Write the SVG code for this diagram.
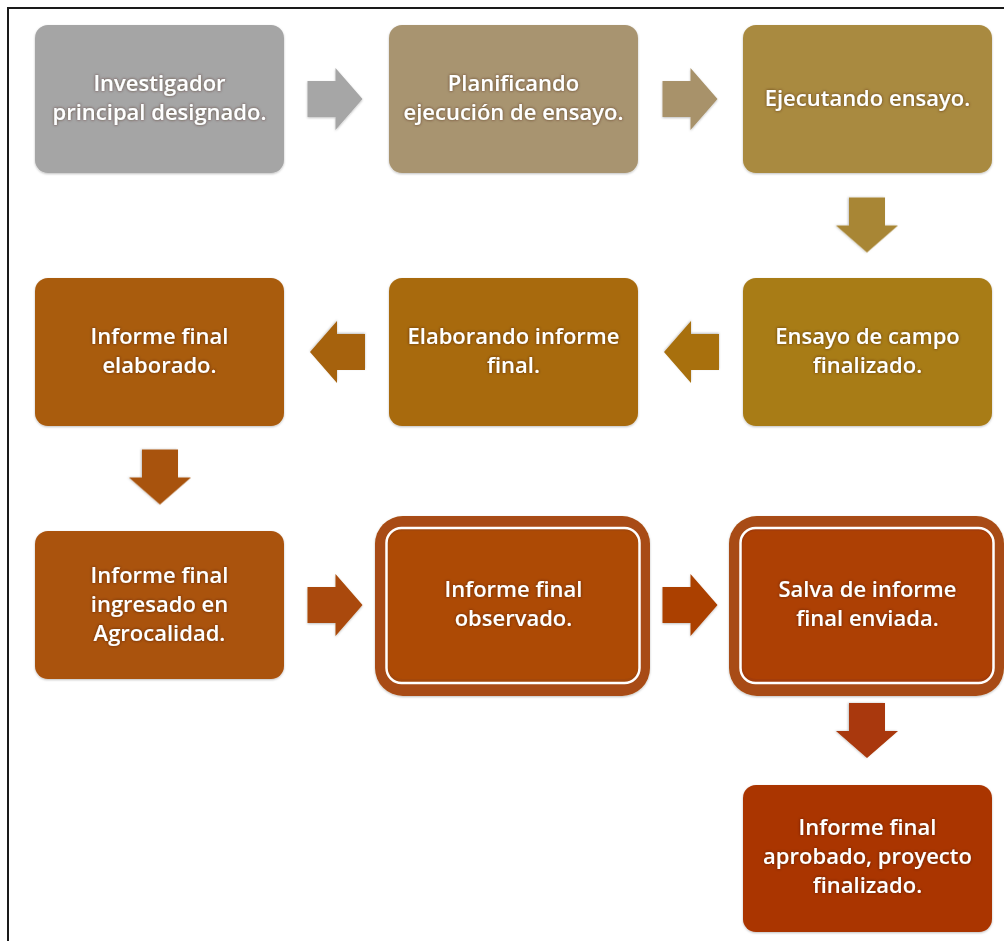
<svg xmlns="http://www.w3.org/2000/svg" width="1004" height="941" viewBox="0 0 1004 941">
  <defs>
    <style>
      .box { stroke-width: 0; filter: url(#soft); }
      .lbl { font-family: "Open Sans", Lato, "Liberation Sans", sans-serif; font-size: 22px; font-weight: 600; fill: #ffffff; text-anchor: middle; filter: url(#glow); }
      .arrow { filter: url(#soft); }
    </style>
    <filter id="soft" x="-10%" y="-10%" width="120%" height="125%">
      <feDropShadow dx="0" dy="1" stdDeviation="1.2" flood-color="#000" flood-opacity="0.25"/>
    </filter>
    <filter id="glow" x="-10%" y="-30%" width="120%" height="160%">
      <feGaussianBlur in="SourceAlpha" stdDeviation="1.4" result="b"/>
      <feFlood flood-color="#3a1a00" flood-opacity="0.7"/>
      <feComposite in2="b" operator="in" result="s"/>
      <feMerge><feMergeNode in="s"/><feMergeNode in="SourceGraphic"/></feMerge>
    </filter>
    <!-- block arrow pointing right, centred on the origin -->
    <path id="arrR" d="M-27,-18 H1 V-31 L28,0 L1,31 V18 H-27 Z"/>
  </defs>

  <rect width="1004" height="941" fill="#ffffff"/>
  <!-- page frame -->
  <path d="M8,941 V8 H1004" fill="none" stroke="#1a1a1a" stroke-width="2"/>

  <!-- connectors -->
  <g id="connectors">
    <use href="#arrR" class="arrow" fill="#a6a6a6" transform="translate(334.5,99)"/>
    <use href="#arrR" class="arrow" fill="#a8926a" transform="translate(689.5,99)"/>
    <use href="#arrR" class="arrow" fill="#a88634" transform="translate(867,224.5) rotate(90)"/>
    <use href="#arrR" class="arrow" fill="#a8700e" transform="translate(692,352) rotate(180)"/>
    <use href="#arrR" class="arrow" fill="#a6620a" transform="translate(338,352) rotate(180)"/>
    <use href="#arrR" class="arrow" fill="#a8520a" transform="translate(160,476.5) rotate(90)"/>
    <use href="#arrR" class="arrow" fill="#aa4a08" transform="translate(334.5,605)"/>
    <use href="#arrR" class="arrow" fill="#ab4006" transform="translate(689.5,605)"/>
    <use href="#arrR" class="arrow" fill="#a93808" transform="translate(867,730) rotate(90)"/>
  </g>

  <g id="n1">
    <rect class="box" x="35" y="25" width="249" height="148" rx="13" fill="#a5a5a5"/>
    <text class="lbl" x="159.5" y="91">Investigador</text>
    <text class="lbl" x="159.5" y="120">principal designado.</text>
  </g>
  <g id="n2">
    <rect class="box" x="389" y="25" width="249" height="148" rx="13" fill="#a89470"/>
    <text class="lbl" x="513.5" y="91">Planificando</text>
    <text class="lbl" x="513.5" y="120">ejecución de ensayo.</text>
  </g>
  <g id="n3">
    <rect class="box" x="743" y="25" width="249" height="148" rx="13" fill="#a98a3f"/>
    <text class="lbl" x="867.5" y="106">Ejecutando ensayo.</text>
  </g>
  <g id="n4">
    <rect class="box" x="743" y="278" width="249" height="148" rx="13" fill="#a87b18"/>
    <text class="lbl" x="867.5" y="344">Ensayo de campo</text>
    <text class="lbl" x="867.5" y="373">finalizado.</text>
  </g>
  <g id="n5">
    <rect class="box" x="389" y="278" width="249" height="148" rx="13" fill="#a86a0a"/>
    <text class="lbl" x="513.5" y="344">Elaborando informe</text>
    <text class="lbl" x="513.5" y="373">final.</text>
  </g>
  <g id="n6">
    <rect class="box" x="35" y="278" width="249" height="148" rx="13" fill="#a95b0b"/>
    <text class="lbl" x="159.5" y="344">Informe final</text>
    <text class="lbl" x="159.5" y="373">elaborado.</text>
  </g>
  <g id="n7">
    <rect class="box" x="35" y="531" width="249" height="148" rx="13" fill="#aa520e"/>
    <text class="lbl" x="159.5" y="583">Informe final</text>
    <text class="lbl" x="159.5" y="612">ingresado en</text>
    <text class="lbl" x="159.5" y="641">Agrocalidad.</text>
  </g>
  <g id="n8">
    <rect x="375" y="516" width="275" height="180" rx="28" fill="#a84c12" filter="url(#soft)"/>
    <rect x="386.5" y="528" width="253" height="155" rx="15" fill="#a3470a" stroke="#ffffff" stroke-width="2.5"/>
    <rect x="389" y="531" width="249" height="148" rx="13" fill="#ad4a05"/>
    <text class="lbl" x="513.5" y="597">Informe final</text>
    <text class="lbl" x="513.5" y="626">observado.</text>
  </g>
  <g id="n9">
    <rect x="729" y="516" width="275" height="180" rx="28" fill="#a84c12" filter="url(#soft)"/>
    <rect x="740.5" y="528" width="253" height="155" rx="15" fill="#a33c0a" stroke="#ffffff" stroke-width="2.5"/>
    <rect x="743" y="531" width="249" height="148" rx="13" fill="#ad4004"/>
    <text class="lbl" x="867.5" y="597">Salva de informe</text>
    <text class="lbl" x="867.5" y="626">final enviada.</text>
  </g>
  <g id="n10">
    <rect class="box" x="743" y="785" width="249" height="147" rx="13" fill="#aa3406"/>
    <text class="lbl" x="867.5" y="835">Informe final</text>
    <text class="lbl" x="867.5" y="864">aprobado, proyecto</text>
    <text class="lbl" x="867.5" y="893">finalizado.</text>
  </g>
</svg>
